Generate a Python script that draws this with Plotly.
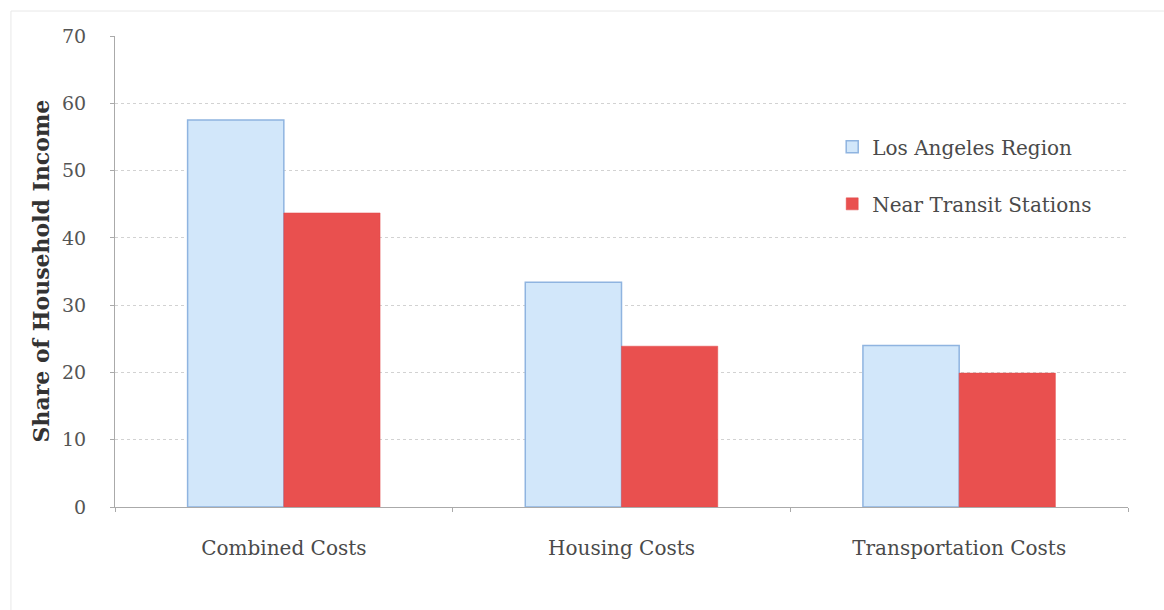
import plotly.graph_objects as go

categories = ["Combined Costs", "Housing Costs", "Transportation Costs"]
la_region = [57.5, 33.4, 24.0]
near_transit = [43.7, 23.9, 19.9]
y_ticks = [0, 10, 20, 30, 40, 50, 60, 70]

FONT = "DejaVu Serif"

fig = go.Figure()
fig.add_trace(go.Bar(
    name="Los Angeles Region", x=categories, y=la_region,
    marker=dict(color="#d2e7fa", line=dict(color="#8fb4e0", width=1.5)),
    legendgroup="a",
))
fig.add_trace(go.Bar(
    name="Near Transit Stations", x=categories, y=near_transit,
    marker=dict(color="#e9504f", line=dict(color="#e04848", width=0.5)),
    legendgroup="b",
))

fig.update_layout(
    width=1164, height=610,
    margin=dict(l=115, r=36, t=36, b=103),
    paper_bgcolor="white", plot_bgcolor="white",
    barmode="group", bargap=0.43, bargroupgap=0,
    font=dict(family=FONT, size=17, color="#4a4a4a"),
    showlegend=True,
    legend=dict(x=0.708, y=0.806, xanchor="left", yanchor="top",
                font=dict(family=FONT, size=20, color="#4a4a4a"),
                tracegroupgap=28, itemwidth=30, bgcolor="rgba(0,0,0,0)"),
    xaxis=dict(showline=True, linecolor="#aaaaaa", linewidth=1,
               ticks="outside", tickson="boundaries", ticklen=4, tickcolor="#aaaaaa",
               tickfont=dict(family=FONT, size=20, color="#4a4a4a"),
               ticklabelstandoff=23),
    yaxis=dict(range=[0, 70], tickvals=y_ticks, showline=True, linecolor="#aaaaaa",
               linewidth=1, ticks="outside", ticklen=4, tickcolor="#aaaaaa",
               showgrid=True, gridcolor="#d2d2d2", griddash="dot", gridwidth=1,
               zeroline=False,
               tickfont=dict(family=FONT, size=19, color="#555"),
               ticklabelstandoff=20),
    annotations=[dict(text="<b>Share of Household Income</b>", textangle=-90,
                      xref="paper", yref="paper", x=(40 - 115) / 1013, y=0.5,
                      xanchor="center", yanchor="middle", showarrow=False,
                      font=dict(family=FONT, size=22, color="#333"))],
    shapes=[
        dict(type="line", xref="paper", yref="paper", x0=-0.1027, x1=1.0355,
             y0=1.053, y1=1.053, line=dict(color="#e8e8e8", width=1)),
        dict(type="line", xref="paper", yref="paper", x0=-0.1027, x1=-0.1027,
             y0=1.053, y1=-0.22, line=dict(color="#e8e8e8", width=1)),
    ],
)

fig.write_html("out.html")
